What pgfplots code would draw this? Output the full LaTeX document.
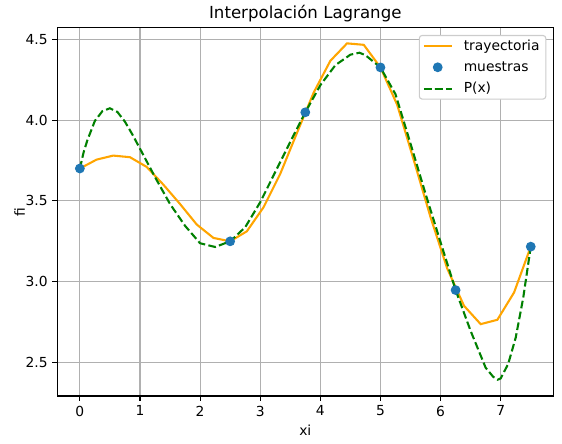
\documentclass[border=0pt]{standalone}
\usepackage{fontspec}
\setmainfont{DejaVu Sans}
\usepackage{pgfplots}
\pgfplotsset{compat=1.18}
\definecolor{mplorange}{HTML}{FFA500}
\definecolor{mplblue}{HTML}{1F77B4}
\definecolor{mplgreen}{HTML}{008000}
\definecolor{mplgrid}{HTML}{B0B0B0}
\definecolor{mpledge}{HTML}{CCCCCC}
\begin{document}
\begin{tikzpicture}
\path[use as bounding box] (-41.26bp,-34.56bp) rectangle (363.38bp,285.12bp);
\begin{axis}[
  name=ax,
  at={(0,0)}, anchor=south west,
  scale only axis, width=357.12bp, height=265.46bp,
  xmin=-0.375, xmax=7.875, ymin=2.291, ymax=4.5745,
  xtick={0,1,2,3,4,5,6,7},
  ytick={2.5,3.0,3.5,4.0,4.5},
  /pgf/number format/assume math mode=true,
  yticklabel style={/pgf/number format/fixed, /pgf/number format/precision=1, /pgf/number format/fixed zerofill},
  tick label style={font=\fontsize{10}{12}\selectfont},
  tick align=outside, major tick length=3.5bp,
  tick style={black, line width=0.8bp},
  xtick pos=left, ytick pos=left,
  axis line style={black, line width=0.8bp},
  grid=major, major grid style={color=mplgrid, line width=0.8bp},
  xlabel={xi}, ylabel={fi},
  label style={font=\fontsize{10}{12}\selectfont},
  xlabel style={at={(axis description cs:0.5,-0.1058)}, anchor=base},
  ylabel style={at={(axis description cs:-0.06525,0.5)}, anchor=base},
  title={Interpolación Lagrange},
  every axis title shift=0pt,
  title style={at={(axis description cs:0.5,1.0234)}, anchor=base, font=\fontsize{12}{14}\selectfont},
  legend image code/.code={\draw[mark repeat=2,mark phase=2,#1] plot coordinates {(0bp,0bp) (10bp,0bp) (20bp,0bp)};},
  legend style={at={(axis description cs:1,1)}, anchor=north east, xshift=-5bp, yshift=-5.5bp,
    draw=mpledge, line width=0.8bp, rounded corners=2bp, fill=white,
    font=\fontsize{10}{12}\selectfont, inner xsep=2.5bp, inner ysep=1bp, row sep=2.6bp,
    /tikz/every odd column/.append style={column sep=6bp}},
  legend cell align=left,
]
\addplot[color=mplorange, line width=1.5bp] coordinates {
(0.0000,3.700) (0.2778,3.755) (0.5556,3.780) (0.8333,3.770) (1.1111,3.710)
(1.3889,3.600) (1.6667,3.480) (1.9444,3.353) (2.2222,3.270) (2.5000,3.249)
(2.7778,3.311) (3.0556,3.460) (3.3333,3.667) (3.6111,3.920) (3.8889,4.170)
(4.1667,4.367) (4.4444,4.475) (4.7222,4.466) (5.0000,4.326) (5.2778,4.095)
(5.5556,3.750) (5.8333,3.398) (6.1111,3.080) (6.3889,2.850) (6.6667,2.736)
(6.9444,2.763) (7.2222,2.932) (7.5000,3.216)
};
\addlegendentry{trayectoria}
\addplot[only marks, mark=*, mark size=3bp, color=mplblue, line width=1bp] coordinates {
(0.00,3.700) (2.50,3.249) (3.75,4.048) (5.00,4.326) (6.25,2.947) (7.50,3.216)
};
\addlegendentry{muestras}
\addplot[color=mplgreen, line width=1.5bp, dash pattern=on 5.55bp off 2.4bp] coordinates {
(0.000,3.700) (0.0625,3.800) (0.125,3.875) (0.25,3.995) (0.375,4.055) (0.5,4.073)
(0.625,4.050) (0.75,3.990) (0.875,3.910) (1.0,3.823) (1.25,3.647) (1.5,3.480)
(1.75,3.345) (2.0,3.237) (2.25,3.214) (2.5,3.249) (2.75,3.336) (3.0,3.491)
(3.25,3.678) (3.5,3.865) (3.75,4.048) (4.0,4.216) (4.25,4.340) (4.5,4.405)
(4.65,4.417) (4.75,4.402) (5.0,4.326) (5.25,4.160) (5.5,3.854) (5.75,3.543)
(6.0,3.243) (6.25,2.947) (6.5,2.694) (6.75,2.466) (6.875,2.410) (6.95,2.392)
(7.0,2.400) (7.125,2.490) (7.25,2.653) (7.375,2.900) (7.5,3.216)
};
\addlegendentry{P(x)}
\end{axis}
\draw[black, line width=0.8bp] (ax.south west) rectangle (ax.north east);
\end{tikzpicture}
\end{document}
